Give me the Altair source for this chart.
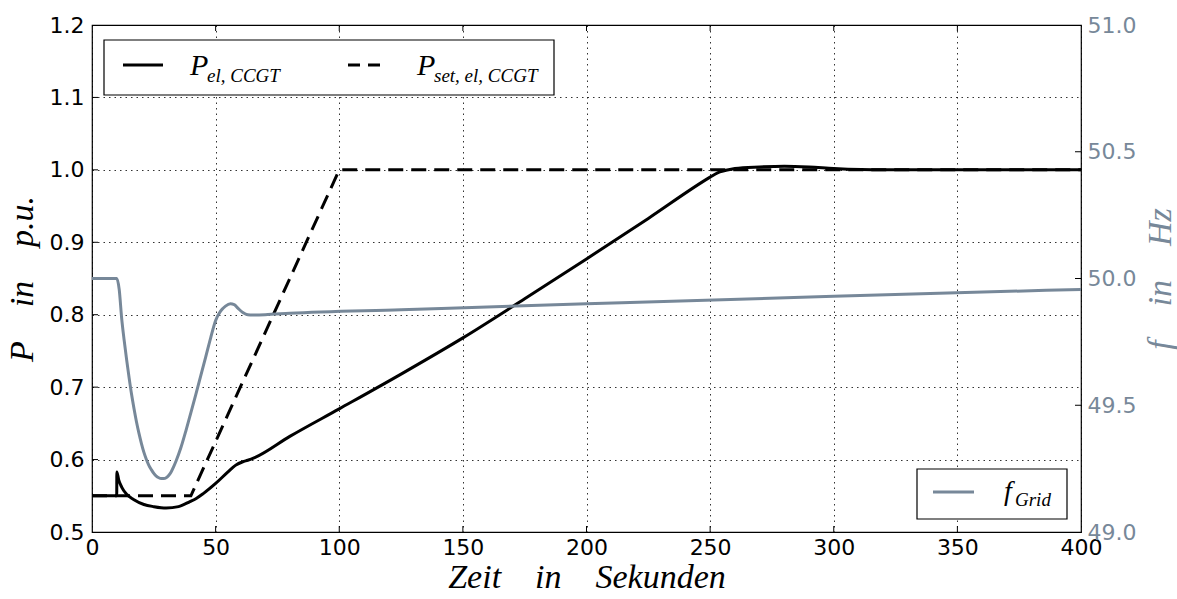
import altair as alt
import pandas as pd

# ---------------- data ----------------
t_el = [0, 10, 10.05, 10.8, 12, 14, 16.8, 21, 25, 30, 35, 39.6, 42, 45, 50, 55, 58, 61, 63, 66, 80,
        100, 125, 150, 175, 200, 225, 250, 253, 256, 260, 270, 280, 290, 300, 320, 400]
p_el = [0.55, 0.55, 0.583, 0.572, 0.562, 0.552, 0.545, 0.538, 0.535, 0.533, 0.535, 0.542, 0.546,
        0.553, 0.567, 0.583, 0.592, 0.597, 0.599, 0.603, 0.632,
        0.670, 0.718, 0.768, 0.822, 0.877, 0.933, 0.990, 0.996, 0.999, 1.002, 1.004, 1.005, 1.004,
        1.002, 1.0, 1.0]

t_set = [0, 40, 100, 400]
p_set = [0.55, 0.55, 1.0, 1.0]

t_f = [0, 10, 11, 12, 13, 14, 15, 16, 17, 18, 19, 20, 21, 22, 23, 24, 25, 26, 27, 28, 29, 30, 31, 32,
       33, 34, 36, 38, 40, 42, 44, 46, 48, 50, 52, 54, 56, 57.5, 59, 61, 63, 65, 70, 80, 125, 200,
       300, 400]
f_grid = [50.0, 50.0, 49.957, 49.843, 49.757, 49.68, 49.609, 49.543, 49.486, 49.434, 49.389, 49.349,
          49.314, 49.286, 49.263, 49.246, 49.231, 49.22, 49.214, 49.211, 49.211, 49.214, 49.223,
          49.237, 49.257, 49.28, 49.334, 49.4, 49.471, 49.543, 49.617, 49.691, 49.766, 49.834,
          49.871, 49.891, 49.9, 49.897, 49.883, 49.866, 49.857, 49.856, 49.857, 49.863, 49.877,
          49.90, 49.93, 49.957]

x_ticks = [0, 50, 100, 150, 200, 250, 300, 350, 400]
p_ticks = [0.5, 0.6, 0.7, 0.8, 0.9, 1.0, 1.1, 1.2]
f_ticks = [49.0, 49.5, 50.0, 50.5, 51.0]

legend_p_main = ["P", "P"]
legend_p_sub = ["el, CCGT", "set, el, CCGT"]
legend_f_main = "f"
legend_f_sub = "Grid"

SP = "\u2003"
x_title = f"Zeit{SP}in{SP}Sekunden"
p_title = f"P{SP}in{SP}p.u."
f_title = f"f{SP}in{SP}Hz"

# ---------------- styling ----------------
W, H = 989, 507
GREY = "#778899"
SERIF = "Liberation Serif"
SANS = "DejaVu Sans"
LW = 3

df_el = pd.DataFrame({"t": t_el, "p": p_el})
df_set = pd.DataFrame({"t": t_set, "p": p_set})
df_f = pd.DataFrame({"t": t_f, "f": f_grid})
df_xt = pd.DataFrame({"t": x_ticks[1:-1]})
df_pt = pd.DataFrame({"p": p_ticks[1:-1]})
df_ft = pd.DataFrame({"f": f_ticks[1:-1]})
one = alt.Data(values=[{"a": 1}])

xscale = alt.Scale(domain=[0, 400], nice=False, zero=False)
pscale = alt.Scale(domain=[0.5, 1.2], nice=False, zero=False)
fscale = alt.Scale(domain=[49.0, 51.0], nice=False, zero=False)

x_axis = alt.Axis(values=x_ticks, title=x_title, labelFont=SANS, labelFontSize=22, labelColor="black",
                  labelPadding=5, ticks=False, domain=False, grid=True, gridDash=[1.5, 4],
                  gridColor="black", gridWidth=1, gridOpacity=0.8, labelFlush=False,
                  titleFont=SERIF, titleFontStyle="italic", titleFontWeight="normal", titleFontSize=34,
                  titleColor="black", titlePadding=2)
p_axis = alt.Axis(values=p_ticks, title=p_title, format=".1f", labelFont=SANS, labelFontSize=22,
                  labelColor="black", labelPadding=8, ticks=False, domain=False, grid=True,
                  gridDash=[1.5, 4], gridColor="black", gridWidth=1, gridOpacity=0.8, labelFlush=False,
                  titleFont=SERIF, titleFontStyle="italic", titleFontWeight="normal", titleFontSize=34,
                  titleColor="black", titlePadding=10)
f_axis = alt.Axis(values=f_ticks, title=f_title, format=".1f", orient="right", labelFont=SANS,
                  labelFontSize=22, labelColor=GREY, labelPadding=6, ticks=False, domain=False,
                  grid=False, labelFlush=False, titleFont=SERIF, titleFontStyle="italic",
                  titleFontWeight="normal", titleFontSize=34, titleColor=GREY, titlePadding=8,
                  titleAngle=270, titleBaseline="top")

p_el_line = alt.Chart(df_el).mark_line(color="black", strokeWidth=LW, interpolate="monotone").encode(
    x=alt.X("t:Q", scale=xscale, axis=x_axis),
    y=alt.Y("p:Q", scale=pscale, axis=p_axis),
)
p_set_line = alt.Chart(df_set).mark_line(color="black", strokeWidth=LW, strokeDash=[15, 8]).encode(
    x=alt.X("t:Q", scale=xscale),
    y=alt.Y("p:Q", scale=pscale),
)

tick_len = 6
x_ticks_bottom = alt.Chart(df_xt).mark_rule(color="black", strokeWidth=1).encode(
    x=alt.X("t:Q", scale=xscale), y=alt.value(H), y2=alt.value(H - tick_len))
x_ticks_top = alt.Chart(df_xt).mark_rule(color="black", strokeWidth=1).encode(
    x=alt.X("t:Q", scale=xscale), y=alt.value(0), y2=alt.value(tick_len))
p_ticks_left = alt.Chart(df_pt).mark_rule(color="black", strokeWidth=1).encode(
    y=alt.Y("p:Q", scale=pscale), x=alt.value(0), x2=alt.value(tick_len))
f_ticks_right = alt.Chart(df_ft).mark_rule(color="black", strokeWidth=1).encode(
    y=alt.Y("f:Q", scale=fscale), x=alt.value(W), x2=alt.value(W - tick_len))

# legend (top-left)
leg1_box = alt.Chart(one).mark_rect(fill="white", stroke="black", strokeWidth=1.2).encode(
    x=alt.value(12), x2=alt.value(462), y=alt.value(15), y2=alt.value(70))
leg1_solid = alt.Chart(one).mark_rule(color="black", strokeWidth=LW).encode(
    x=alt.value(31), x2=alt.value(71), y=alt.value(40))
leg1_dash = alt.Chart(one).mark_rule(color="black", strokeWidth=LW, strokeDash=[12, 8]).encode(
    x=alt.value(256), x2=alt.value(288), y=alt.value(40))


def txt(s, x, y, size, color="black"):
    return alt.Chart(one).mark_text(font=SERIF, fontStyle="italic", fontSize=size, color=color,
                                    align="left", baseline="alphabetic").encode(
        x=alt.value(x), y=alt.value(y), text=alt.value(s))


leg1_texts = [
    txt(legend_p_main[0], 98, 50, 30), txt(legend_p_sub[0], 115, 57, 19),
    txt(legend_p_main[1], 325, 50, 30), txt(legend_p_sub[1], 342, 57, 19),
]

# legend (bottom-right)
leg2_box = alt.Chart(one).mark_rect(fill="white", stroke="black", strokeWidth=1.2).encode(
    x=alt.value(825), x2=alt.value(975), y=alt.value(444), y2=alt.value(494))
leg2_line = alt.Chart(one).mark_rule(color=GREY, strokeWidth=LW).encode(
    x=alt.value(841), x2=alt.value(882), y=alt.value(467))
leg2_texts = [txt(legend_f_main, 912, 475, 28), txt(legend_f_sub, 923, 481, 19)]

f_line = alt.Chart(df_f).mark_line(color=GREY, strokeWidth=LW, interpolate="monotone").encode(
    x=alt.X("t:Q", scale=xscale),
    y=alt.Y("f:Q", scale=fscale, axis=f_axis),
)

left = alt.layer(p_el_line, p_set_line, x_ticks_bottom, x_ticks_top, p_ticks_left,
                 leg1_box, leg1_solid, leg1_dash, *leg1_texts)
right = alt.layer(f_line, f_ticks_right, leg2_box, leg2_line, *leg2_texts)

chart = alt.layer(left, right).resolve_scale(y="independent").properties(
    width=W, height=H,
    autosize=alt.AutoSizeParams(type="none"),
    padding={"left": 92, "top": 25, "right": 96, "bottom": 67},
    background="white",
).configure_view(stroke="black", strokeWidth=1.2)

chart.save("out.html", embed_options={"renderer": "svg", "actions": False})
